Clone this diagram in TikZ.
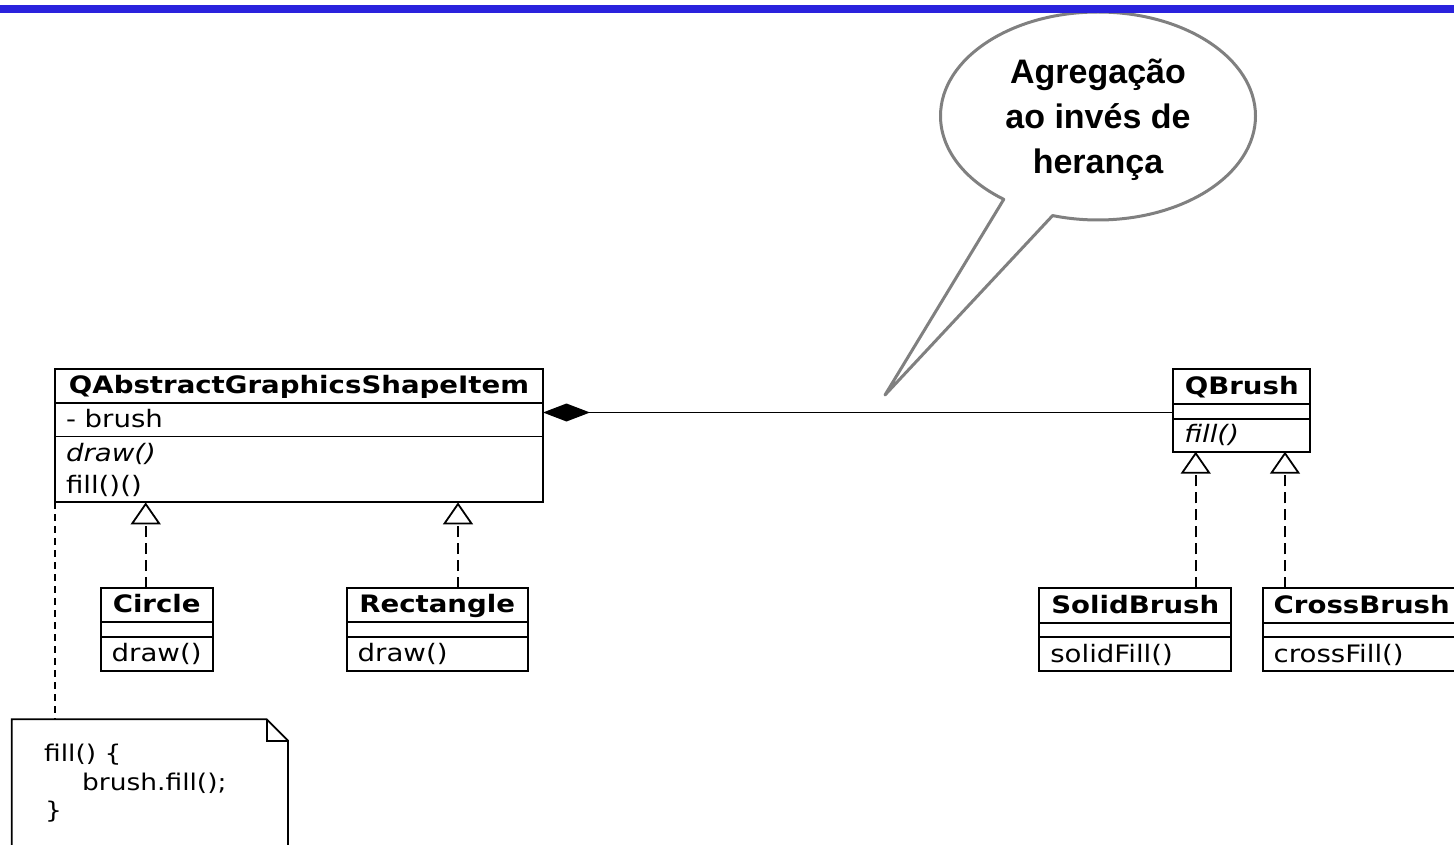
\documentclass[tikz,border=0pt]{standalone}
\usepackage{fontspec}
\usepackage{xcolor}
\usetikzlibrary{shapes.multipart,
	shapes.callouts,
	arrows.meta,
	positioning}
\newfontfamily\umlfont[FakeStretch=1.15]{DejaVu Sans}
\newfontfamily\balloonfont{Liberation Sans}
\definecolor{barblue}{RGB}{42,34,221}
\definecolor{balloongray}{RGB}{128,128,128}
\newcommand{\umlsize}{\umlfont\fontsize{24pt}{32pt}\selectfont}
\newcommand{\mstrut}{\rule[-8pt]{0pt}{32pt}}
\newcommand{\head}[2]{\parbox{#1}{\centering\bfseries\rule[-8.5pt]{0pt}{32.5pt}#2}}
\newcommand{\member}[3][32pt]{\parbox{#2}{\rule[-8pt]{0pt}{#1}#3}}
\newcommand{\nomember}[1]{\rule{0pt}{#1}}
\tikzstyle{cls}=[draw, line width=1.9pt, rectangle split, rectangle split parts=3,
		inner xsep=11pt, inner ysep=0pt, outer sep=0pt, anchor=north west, font=\umlsize]
\tikzstyle{realize}=[draw, line width=1.8pt, dash pattern=on 11pt off 6pt,
		-{Triangle[open, length=22pt, width=30pt]}]
\tikzstyle{compose}=[draw, line width=1.8pt, -{Diamond[length=47pt, width=18pt]}]
\tikzstyle{memo}=[anchor=north west, minimum width=276.3pt, minimum height=150pt,
		inner sep=0pt, outer sep=0pt]
\tikzstyle{memoline}=[draw, line width=1.8pt]
\tikzstyle{memolink}=[draw, line width=1.8pt, dash pattern=on 7pt off 5pt]
\tikzstyle{memotext}=[anchor=base west, inner sep=0pt,
		font=\umlfont\fontsize{23pt}{28pt}\selectfont]
\tikzstyle{balloon}=[ellipse callout, draw=balloongray, line width=3pt, line join=round,
		fill=white, minimum width=315pt, minimum height=208pt, inner sep=0pt,
		callout pointer arc=20, align=center,
		font=\balloonfont\bfseries\fontsize{34pt}{45pt}\selectfont]

\begin{document}
\begin{tikzpicture}[x=1pt, y=-1pt]
	\useasboundingbox (0,0) rectangle (1454,845);
	% shape hierarchy
	\node[cls] (item) at (55,369) {\head{466pt}{QAbstractGraphicsShapeItem}
		\nodepart{second}\member[31.2pt]{466pt}{- brush}
		\nodepart{third}\member{466pt}{\textit{draw()}\\\mstrut fill()()}};
	\node[cls] (circ) at (100.7,588) {\head{90pt}{Circle}
		\nodepart{second}\nomember{12.7pt}
		\nodepart{third}\member{90pt}{draw()}};
	\node[cls] (rect) at (346.7,588) {\head{159pt}{Rectangle}
		\nodepart{second}\nomember{12.7pt}
		\nodepart{third}\member{159pt}{draw()}};
	% brush hierarchy
	\node[cls] (brush) at (1173.3,369.3) {\head{115pt}{QBrush}
		\nodepart{second}\nomember{13.2pt}
		\nodepart{third}\member[31pt]{115pt}{\textit{fill()}}};
	\node[cls] (solid) at (1039.3,588.3) {\head{170pt}{SolidBrush}
		\nodepart{second}\nomember{12.7pt}
		\nodepart{third}\member{170pt}{solidFill()}};
	\node[cls] (cross) at (1262.7,588.3) {\head{175pt}{CrossBrush}
		\nodepart{second}\nomember{12.7pt}
		\nodepart{third}\member{175pt}{crossFill()}};

	\foreach \sub/\dx/\super in {circ/45/item, rect/111.3/item, solid/156.4/brush, cross/22.3/brush} {
		\coordinate (foot) at ([xshift=\dx pt]\sub.north west);
		\draw[realize] (foot) -- (foot |- \super.south);
	}
	\coordinate (link) at ([yshift=-2pt]brush.west);
	\draw[compose] (link) -- (link -| item.east);

	% note on fill()
	\node[memo] (memo) at (11.7,719.3) {};
	\draw[memoline] (memo.south west) -- (memo.north west) -- ([xshift=-21.3pt]memo.north east)
		-- ([yshift=-21.4pt]memo.north east) -- (memo.south east);
	\draw[memoline] ([xshift=-21.3pt]memo.north east) |- ([yshift=-21.4pt]memo.north east);
	\draw[memolink] (item.south west) -- (item.south west |- memo.north);
	\node[memotext] (code1) at (44,761.7) {fill() \{};
	\node[memotext] (code2) at (82,790.5) {brush.fill();};
	\node[memotext] (code3) at (45,818) {\}};

	% speech balloon
	\coordinate (tip) at (885,395);
	\node[balloon, callout absolute pointer={(tip)}] (remark) at (1098,116)
		{\rule{0pt}{32pt}Agregação\\ao invés de\\herança};

	\fill[barblue] (0,4.7) rectangle (1454,12.7);
\end{tikzpicture}
\end{document}
